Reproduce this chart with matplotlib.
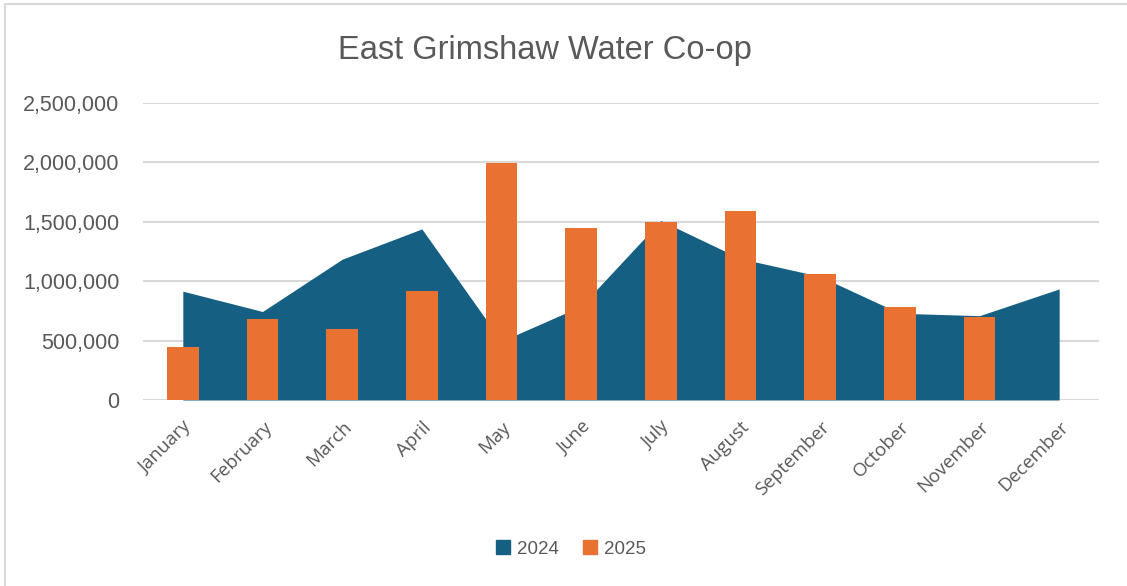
import matplotlib
matplotlib.use("Agg")
import matplotlib.pyplot as plt
import numpy as np
from matplotlib.ticker import FuncFormatter
from matplotlib.patches import Rectangle

months = ["January", "February", "March", "April", "May", "June", "July",
          "August", "September", "October", "November", "December"]
values_2024 = [916000, 745000, 1185000, 1440000, 495000, 790000, 1510000,
               1190000, 1040000, 730000, 710000, 935000]
values_2025 = [445000, 681000, 599000, 918000, 1995000, 1447000, 1497000,
               1595000, 1059000, 782000, 695000, None]
title = "East Grimshaw Water Co-op"
series_names = ["2024", "2025"]

BLUE = "#156082"
ORANGE = "#E97132"
TEXT = "#595959"
GRID = "#D9D9D9"

W, H = 1127, 586
fig = plt.figure(figsize=(W / 100, H / 100), dpi=100)
fig.patch.set_facecolor("white")

# chart border (top and left visible)
fig.add_artist(Rectangle((4.5 / W, -0.05), 1.2, 1 - 4.5 / H + 0.05,
                         transform=fig.transFigure, fill=False,
                         edgecolor="#D9D9D9", linewidth=1.5))

ax = fig.add_axes([143 / W, 1 - 400 / H, (1099 - 143) / W, (400 - 103) / H])
x = np.arange(len(months))

ax.fill_between(x, values_2024, 0, color=BLUE, linewidth=0, zorder=2, label=series_names[0])
bx = [i for i, v in enumerate(values_2025) if v is not None]
bv = [v for v in values_2025 if v is not None]
ax.bar(bx, bv, width=0.4, color=ORANGE, zorder=3, label=series_names[1])

ax.set_xlim(-0.5, len(months) - 0.5)
ax.set_ylim(0, 2500000)
ax.set_yticks(np.arange(0, 2500001, 500000))
ax.yaxis.set_major_formatter(FuncFormatter(lambda v, p: f"{int(v):,}"))
ax.grid(axis="y", color=GRID, linewidth=1.5, zorder=0)
ax.set_axisbelow(True)
for s in ax.spines.values():
    s.set_visible(False)
ax.tick_params(axis="both", length=0)
ax.tick_params(axis="y", pad=17, labelsize=15.5, labelcolor=TEXT)
for lab in ax.get_yticklabels():
    lab.set_family("Liberation Sans")

ax.set_xticks(x)
ax.set_xticklabels(months, rotation=45, ha="right", rotation_mode="anchor",
                   fontsize=13.5, color=TEXT, family="Open Sans")
ax.tick_params(axis="x", pad=13)

fig.text(545 / W, 1 - 50 / H, title, ha="center", va="center", fontsize=23.5,
         color=TEXT, family="Liberation Sans")

handles = [Rectangle((0, 0), 1, 1, color=BLUE), Rectangle((0, 0), 1, 1, color=ORANGE)]
fig.legend(handles, series_names, loc="center", bbox_to_anchor=(571 / W, 1 - 549 / H),
           ncol=2, frameon=False, prop={"family": "Liberation Sans", "size": 13.5},
           labelcolor=TEXT, handlelength=0.75, handleheight=0.75, handletextpad=0.35,
           columnspacing=1.3)

fig.savefig("out.png", dpi=100, facecolor="white")
